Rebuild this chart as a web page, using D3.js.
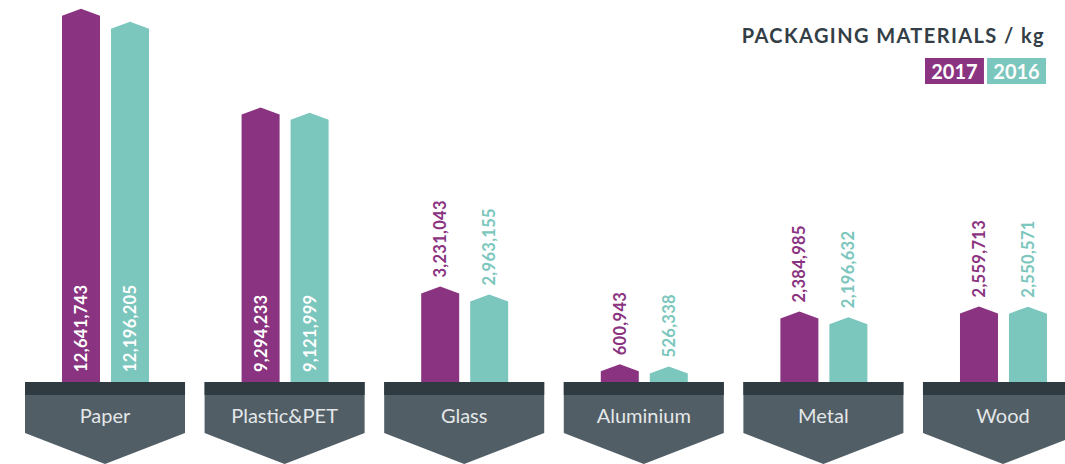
<!DOCTYPE html>
<html>
<head>
<meta charset="utf-8">
<script src="https://cdn.jsdelivr.net/npm/d3@7"></script>
<style>
  html, body { margin: 0; padding: 0; background: #ffffff; }
  svg { display: block; }
</style>
</head>
<body>
<svg id="chart" width="1065" height="464"></svg>
<script>
const categories = ["Paper", "Plastic&PET", "Glass", "Aluminium", "Metal", "Wood"];
const years = ["2017", "2016"];
const values2017 = [12641743, 9294233, 3231043, 600943, 2384985, 2559713];
const values2016 = [12196205, 9121999, 2963155, 526338, 2196632, 2550571];
const titleText = "PACKAGING MATERIALS / kg";

const colors = { "2017": "#8a3380", "2016": "#7bc6bd" };
const darkBand = "#2f3a41";
const plateGray = "#515e65";

const svg = d3.select("#chart");
const baseY = 382;

const x = d3.scaleBand().domain(categories).range([25, 1083]).paddingInner(0.109).paddingOuter(0);
const xs = d3.scaleBand().domain(years).range([37, 124]).paddingInner(0.2245).paddingOuter(0);
const y = d3.scaleLinear().domain([0, 12641743]).range([baseY, baseY - 373.3]);

const data = [];
categories.forEach((c, i) => {
  data.push({ cat: c, year: "2017", value: values2017[i] });
  data.push({ cat: c, year: "2016", value: values2016[i] });
});

const fmt = d3.format(",");
const roof = 7;

// bars
svg.append("g").selectAll("path").data(data).join("path")
  .attr("fill", d => colors[d.year])
  .attr("d", d => {
    const left = x(d.cat) + xs(d.year);
    const right = left + xs.bandwidth();
    const mid = (left + right) / 2;
    const top = y(d.value);
    return `M${left},${baseY} L${left},${top + roof} L${mid},${top} L${right},${top + roof} L${right},${baseY} Z`;
  });

// plates
const pw = x.bandwidth();
const plates = svg.append("g").selectAll("g").data(categories).join("g")
  .attr("transform", d => `translate(${x(d)},0)`);
plates.append("path")
  .attr("fill", plateGray)
  .attr("d", `M0,${baseY} L${pw},${baseY} L${pw},433 L${pw/2},464 L0,433 Z`);
plates.append("rect")
  .attr("x", 0).attr("y", baseY).attr("width", pw).attr("height", 13)
  .attr("fill", darkBand);
plates.append("text")
  .attr("x", pw / 2).attr("y", 423)
  .attr("text-anchor", "middle")
  .attr("font-family", "Lato, sans-serif")
  .attr("font-size", 20)
  .attr("fill", "#e4e7e9")
  .text(d => d);

// value labels
const inside = d => d.value > 5000000;
svg.append("g").selectAll("text").data(data).join("text")
  .attr("transform", d => {
    const cx = x(d.cat) + xs(d.year) + xs.bandwidth() / 2;
    const sy = inside(d) ? baseY - 10 : y(d.value) - 9;
    return `translate(${cx},${sy}) rotate(-90)`;
  })
  .attr("dy", "0.36em")
  .attr("font-family", "Lato, sans-serif")
  .attr("font-weight", "bold")
  .attr("font-size", 16.5)
  .attr("letter-spacing", "0.3px")
  .attr("fill", d => inside(d) ? "#ffffff" : colors[d.year])
  .text(d => fmt(d.value));

// title
svg.append("text")
  .attr("x", 1045).attr("y", 42.5)
  .attr("text-anchor", "end")
  .attr("font-family", "Lato, sans-serif")
  .attr("font-weight", "bold")
  .attr("font-size", 20)
  .attr("letter-spacing", "1.4px")
  .attr("fill", "#333e46")
  .text(titleText);

// legend
const legendX = d3.scaleBand().domain(years).range([925, 1046]).paddingInner(0.05);
const lg = svg.append("g").selectAll("g").data(years).join("g")
  .attr("transform", d => `translate(${legendX(d)},58)`);
lg.append("rect")
  .attr("width", legendX.bandwidth()).attr("height", 26)
  .attr("fill", d => colors[d]);
lg.append("text")
  .attr("x", legendX.bandwidth() / 2).attr("y", 20.5)
  .attr("text-anchor", "middle")
  .attr("font-family", "Lato, sans-serif")
  .attr("font-weight", "bold")
  .attr("font-size", 20)
  .attr("fill", "#ffffff")
  .text(d => d);
</script>
</body>
</html>
